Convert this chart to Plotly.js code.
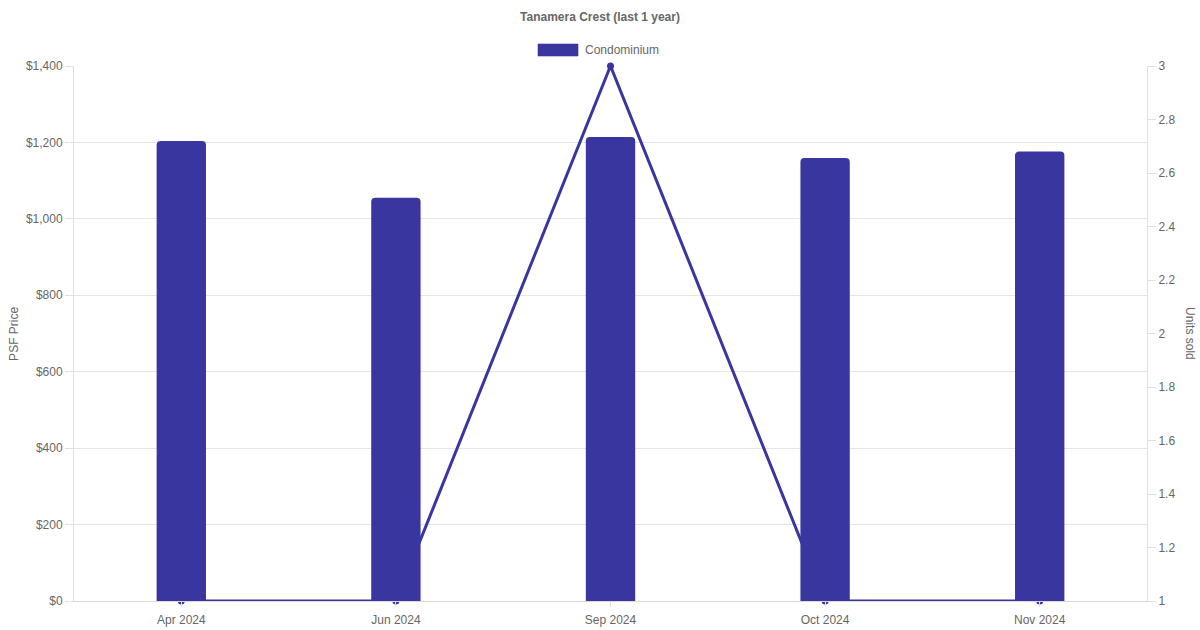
<!DOCTYPE html>
<html>
<head>
<meta charset="utf-8">
<script src="https://cdn.plot.ly/plotly-3.0.1.min.js"></script>
<style>html,body{margin:0;padding:0;background:#fff;}#chart{width:1200px;height:630px;}</style>
</head>
<body>
<div id="chart"></div>
<script>
const categories = ["Apr 2024", "Jun 2024", "Sep 2024", "Oct 2024", "Nov 2024"];
const psfPrice = [1204, 1055, 1214, 1159, 1176];
const unitsSold = [1, 1, 3, 1, 1];
const priceTicks = [0, 200, 400, 600, 800, 1000, 1200, 1400];
const priceTickLabels = ["$0", "$200", "$400", "$600", "$800", "$1,000", "$1,200", "$1,400"];
const unitTicks = [1, 1.2, 1.4, 1.6, 1.8, 2, 2.2, 2.4, 2.6, 2.8, 3];
const unitTickLabels = ["1", "1.2", "1.4", "1.6", "1.8", "2", "2.2", "2.4", "2.6", "2.8", "3"];

const color = "#3a36a0";
const font = {family: "'Liberation Sans', Arial, Helvetica, sans-serif", size: 12, color: "#666"};

const lineTrace = {
  x: categories, y: unitsSold, type: "scatter", mode: "lines+markers",
  yaxis: "y", name: "Units sold", showlegend: false, cliponaxis: false,
  line: {color: color, width: 3}, marker: {color: color, size: 7},
  hoverinfo: "skip"
};
const barTrace = {
  x: categories, y: psfPrice, type: "bar", yaxis: "y2", name: "Condominium",
  marker: {color: color, cornerradius: 4}, width: 0.23, showlegend: false
};

const layout = {
  width: 1200, height: 630,
  margin: {l: 74, r: 53, t: 66, b: 29},
  paper_bgcolor: "#fff", plot_bgcolor: "#fff",
  font: font,
  title: {text: "<b>Tanamera Crest (last 1 year)</b>", x: 0.5, xanchor: "center", y: 0.974, yanchor: "middle", font: {family: font.family, size: 12, color: "#666"}},
  xaxis: {
    type: "category", showgrid: false, showline: true, linecolor: "#d9d9d9", linewidth: 1,
    ticks: "outside", ticklen: 5, tickcolor: "#e0e0e0", tickfont: font, zeroline: false,
    ticklabelstandoff: 3
  },
  yaxis: {
    side: "right", range: [1, 3], tickvals: unitTicks, ticktext: unitTickLabels,
    showgrid: false, showline: true, linecolor: "#e0e0e0", ticks: "outside", ticklen: 8,
    tickcolor: "#e0e0e0", tickfont: font, zeroline: false
  },
  yaxis2: {
    overlaying: "y", side: "left", range: [0, 1400], tickvals: priceTicks, ticktext: priceTickLabels,
    showgrid: true, gridcolor: "#e5e5e5", showline: true, linecolor: "#e0e0e0",
    ticks: "outside", ticklen: 8, tickcolor: "#e0e0e0", tickfont: font, zeroline: false
  },
  shapes: [{type: "rect", xref: "paper", yref: "paper",
    x0: (538-74)/1073, x1: (578-74)/1073, y0: (601-56)/535, y1: (601-44)/535,
    fillcolor: color, line: {width: 1, color: "rgba(58,54,160,0.6)"}}],
  annotations: [
    {text: "PSF Price", xref: "paper", yref: "paper", x: -0.0565, y: 0.5, showarrow: false, textangle: -90, font: font, xanchor: "center", yanchor: "middle"},
    {text: "Units sold", xref: "paper", yref: "paper", x: 1.0405, y: 0.5, showarrow: false, textangle: 90, font: font, xanchor: "center", yanchor: "middle"},
    {text: "Condominium", xref: "paper", yref: "paper", x: (583-74)/1073, y: (601-50)/535, showarrow: false, font: font, xanchor: "left", yanchor: "middle"}
  ],
  showlegend: false
};

Plotly.newPlot("chart", [lineTrace, barTrace], layout, {staticPlot: true, displayModeBar: false});
</script>
</body>
</html>
